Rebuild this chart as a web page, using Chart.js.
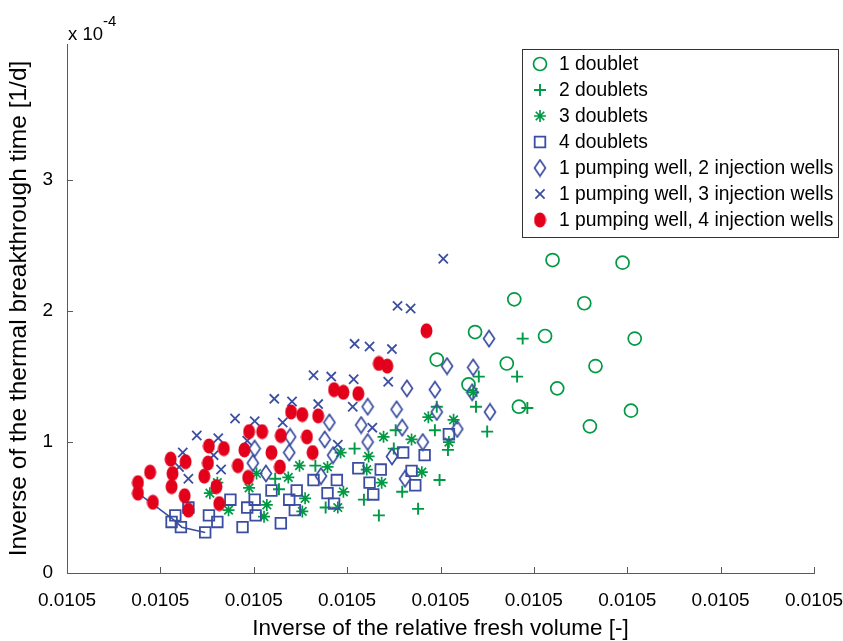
<!DOCTYPE html>
<html>
<head>
<meta charset="utf-8">
<script src="https://cdn.jsdelivr.net/npm/chart.js@4.4.1/dist/chart.umd.min.js"></script>
<style>
  html, body { margin: 0; padding: 0; background: #fff; }
</style>
</head>
<body>
<canvas id="chart" width="843" height="641"></canvas>
<script>
// x is given in tick steps (every tick is printed as 0.0105), y in units of 1e-4 [1/d]
const xTickLabels = ['0.0105', '0.0105', '0.0105', '0.0105', '0.0105', '0.0105', '0.0105', '0.0105', '0.0105'];
const yTickValues = [0, 1, 2, 3];
const yTickLabels = ['0', '1', '2', '3'];

const seriesNames = [
    '1 doublet',
    '2 doublets',
    '3 doublets',
    '4 doublets',
    '1 pumping well, 2 injection wells',
    '1 pumping well, 3 injection wells',
    '1 pumping well, 4 injection wells'
];

const oneDoublet = [
    [5.20, 2.39], [5.95, 2.37], [4.79, 2.09], [5.54, 2.06], [4.37, 1.84], [5.12, 1.81], [6.08, 1.79],
    [3.96, 1.63], [4.71, 1.60], [5.66, 1.58], [4.30, 1.44], [5.25, 1.41], [4.84, 1.27], [6.04, 1.24], [5.60, 1.12]
];
const twoDoublets = [
    [4.88, 1.79], [4.41, 1.50], [4.82, 1.50], [4.93, 1.26], [4.38, 1.27], [3.96, 1.27], [4.50, 1.08],
    [3.94, 1.09], [3.52, 1.09], [3.50, 0.95], [4.08, 0.94], [3.08, 0.95], [2.66, 0.82], [3.99, 0.71],
    [3.59, 0.62], [3.18, 0.56], [2.77, 0.50], [3.34, 0.44], [3.76, 0.49], [2.23, 0.72], [2.27, 0.64]
];
const threeDoublets = [
    [4.35, 1.38], [3.87, 1.19], [4.14, 1.17], [3.39, 1.04], [3.69, 1.02], [4.09, 1.00], [2.93, 0.92],
    [3.23, 0.89], [2.79, 0.81], [3.21, 0.79], [3.80, 0.77], [3.37, 0.69], [2.96, 0.62], [2.90, 0.50],
    [2.55, 0.57], [2.52, 0.47], [2.49, 0.82], [2.37, 0.73], [2.03, 0.76], [1.95, 0.65], [2.14, 0.52],
    [2.11, 0.43], [1.53, 0.61], [1.61, 0.69], [1.73, 0.48]
];
const fourDoublets = [
    [1.16, 0.44], [1.12, 0.39], [1.22, 0.35], [1.48, 0.31], [1.30, 0.50], [1.52, 0.44], [1.61, 0.39],
    [1.75, 0.56], [1.88, 0.35], [1.93, 0.50], [2.01, 0.56], [2.02, 0.44], [2.19, 0.63], [2.29, 0.38],
    [2.38, 0.56], [2.44, 0.48], [2.46, 0.63], [2.64, 0.71], [2.89, 0.71], [2.79, 0.61], [2.86, 0.53],
    [3.12, 0.80], [3.36, 0.79], [3.24, 0.69], [3.28, 0.60], [3.60, 0.92], [3.83, 0.90], [3.69, 0.78],
    [3.73, 0.67], [4.09, 1.06]
];
const pump2Inj = [
    [4.52, 1.79], [4.07, 1.58], [4.35, 1.57], [3.64, 1.41], [3.94, 1.40], [4.34, 1.38], [3.22, 1.27],
    [3.53, 1.25], [3.96, 1.23], [4.53, 1.23], [2.81, 1.15], [3.15, 1.13], [3.59, 1.11], [4.18, 1.10],
    [2.39, 1.04], [2.76, 1.02], [3.22, 1.00], [3.81, 1.00], [2.01, 0.95], [2.38, 0.92], [2.85, 0.90],
    [3.48, 0.89], [1.99, 0.84], [2.13, 0.76], [2.72, 0.74], [3.62, 0.72]
];
const pump3Inj = [
    [4.03, 2.40], [3.54, 2.04], [3.68, 2.02], [3.08, 1.75], [3.24, 1.73], [3.48, 1.71], [2.64, 1.51],
    [2.83, 1.50], [3.07, 1.48], [3.44, 1.46], [2.22, 1.33], [2.41, 1.31], [2.69, 1.29], [3.06, 1.27],
    [1.80, 1.18], [2.01, 1.16], [2.31, 1.15], [1.39, 1.05], [1.62, 1.03], [1.93, 1.01], [3.27, 1.11],
    [2.90, 0.98], [1.24, 0.92], [1.57, 0.90], [1.20, 0.81], [1.65, 0.79], [1.30, 0.72]
];
const pump4Inj = [
    [3.85, 1.85], [3.34, 1.60], [3.43, 1.58], [2.86, 1.40], [2.96, 1.38], [3.12, 1.37], [2.40, 1.23],
    [2.52, 1.21], [2.69, 1.20], [1.95, 1.08], [2.09, 1.08], [2.29, 1.05], [2.57, 1.04], [1.52, 0.97],
    [1.68, 0.95], [1.90, 0.94], [2.19, 0.92], [2.63, 0.92], [1.27, 0.85], [1.11, 0.87], [1.51, 0.84],
    [1.83, 0.82], [2.28, 0.81], [0.89, 0.77], [1.13, 0.76], [1.47, 0.74], [1.94, 0.73], [0.76, 0.69],
    [1.12, 0.66], [1.60, 0.66], [0.76, 0.61], [1.26, 0.59], [0.92, 0.54], [1.63, 0.53], [1.30, 0.48]
];
// short blue curve in the lower left corner
const fitLine = [[0.76, 0.61], [1.12, 0.42], [1.23, 0.35], [1.48, 0.31]];

const green = '#009a44';
const blue = '#3c4ea1';
const red = '#e3001b';
const axisColor = '#5a5a5a';
const font = '"Liberation Sans", Arial, sans-serif';

const pts = arr => arr.map(([x, y]) => ({ x, y }));

function markerCanvas(w, h, draw) {
    const c = document.createElement('canvas');
    c.width = w;
    c.height = h;
    draw(c.getContext('2d'), w, h);
    return c;
}
const tallDiamond = markerCanvas(14, 19, (g, w, h) => {
    g.strokeStyle = blue;
    g.lineWidth = 1.7;
    g.beginPath();
    g.moveTo(w / 2, 1.5);
    g.lineTo(w - 1.5, h / 2);
    g.lineTo(w / 2, h - 1.5);
    g.lineTo(1.5, h / 2);
    g.closePath();
    g.stroke();
});
const redDot = markerCanvas(13, 16, (g, w, h) => {
    g.fillStyle = red;
    g.beginPath();
    g.ellipse(w / 2, h / 2, w / 2 - 0.5, h / 2 - 0.5, 0, 0, Math.PI * 2);
    g.fill();
});

const datasets = [
    { label: seriesNames[0], data: pts(oneDoublet), pointStyle: 'circle', pointRadius: 6.5, borderWidth: 1.7, borderColor: green, backgroundColor: 'rgba(0,0,0,0)', order: 8 },
    { label: seriesNames[1], data: pts(twoDoublets), pointStyle: 'cross', pointRadius: 6, borderWidth: 1.9, borderColor: green, backgroundColor: green, order: 7 },
    { label: seriesNames[2], data: pts(threeDoublets), pointStyle: 'star', pointRadius: 6, borderWidth: 1.7, borderColor: green, backgroundColor: green, order: 6 },
    { label: seriesNames[3], data: pts(fourDoublets), pointStyle: 'rect', pointRadius: 7.5, borderWidth: 1.8, borderColor: blue, backgroundColor: 'rgba(0,0,0,0)', order: 5 },
    { label: seriesNames[4], data: pts(pump2Inj), pointStyle: tallDiamond, pointRadius: 8, borderWidth: 1.7, borderColor: blue, backgroundColor: 'rgba(0,0,0,0)', order: 4 },
    { label: seriesNames[5], data: pts(pump3Inj), pointStyle: 'crossRot', pointRadius: 6.5, borderWidth: 1.8, borderColor: blue, backgroundColor: blue, order: 3 },
    { label: seriesNames[6], data: pts(pump4Inj), pointStyle: redDot, pointRadius: 7, borderWidth: 0, borderColor: red, backgroundColor: red, order: 2 },
    { type: 'line', label: 'fit', data: pts(fitLine), borderColor: blue, borderWidth: 1.6, pointRadius: 0, fill: false, order: 4.5 }
];

// ticks pointing inwards + the "x 10^-4" multiplier
const axisDecor = {
    id: 'axisDecor',
    afterDatasetsDraw(chart) {
        const { ctx, chartArea: a, scales: { x, y } } = chart;
        ctx.save();
        ctx.strokeStyle = axisColor;
        ctx.lineWidth = 1;
        ctx.beginPath();
        x.ticks.forEach(t => {
            const px = Math.round(x.getPixelForValue(t.value)) + 0.5;
            ctx.moveTo(px, a.bottom);
            ctx.lineTo(px, a.bottom - 6);
        });
        y.ticks.forEach(t => {
            const py = Math.round(y.getPixelForValue(t.value)) + 0.5;
            ctx.moveTo(a.left, py);
            ctx.lineTo(a.left + 6, py);
        });
        ctx.stroke();
        ctx.fillStyle = '#000';
        ctx.textBaseline = 'alphabetic';
        ctx.font = '18.5px ' + font;
        ctx.fillText('x 10', a.left + 1, 40);
        const w = ctx.measureText('x 10').width;
        ctx.font = '15px ' + font;
        ctx.fillText('-4', a.left + 1 + w, 26);
        ctx.restore();
    }
};

const legendBox = {
    id: 'legendBox',
    afterDraw(chart) {
        const ctx = chart.ctx;
        ctx.save();
        ctx.fillStyle = '#fff';
        ctx.fillRect(522.5, 49.5, 316, 188);
        ctx.strokeStyle = '#333';
        ctx.lineWidth = 1;
        ctx.strokeRect(522.5, 49.5, 316, 188);
        seriesNames.forEach((name, i) => {
            const ds = chart.data.datasets[i];
            const y = 64 + i * 26;
            ctx.save();
            ctx.strokeStyle = ds.borderColor;
            ctx.fillStyle = ds.backgroundColor;
            ctx.lineWidth = ds.borderWidth;
            Chart.helpers.drawPoint(ctx, { pointStyle: ds.pointStyle, radius: ds.pointRadius, rotation: 0, borderWidth: ds.borderWidth }, 540, y);
            ctx.restore();
            ctx.fillStyle = '#000';
            ctx.font = '19.3px ' + font;
            ctx.textBaseline = 'middle';
            ctx.fillText(name, 559, y + 1);
        });
        ctx.restore();
    }
};

new Chart(document.getElementById('chart'), {
    type: 'scatter',
    data: { datasets },
    options: {
        responsive: false,
        animation: false,
        events: [],
        layout: { padding: { top: 44, right: 29, left: 0, bottom: 0 } },
        plugins: { legend: { display: false }, tooltip: { enabled: false } },
        scales: {
            x: {
                type: 'linear', min: 0, max: 8,
                afterBuildTicks: s => { s.ticks = xTickLabels.map((_, i) => ({ value: i })); },
                afterFit: s => { s.height = 68; s.paddingLeft = 0; s.paddingRight = 0; },
                grid: { display: false },
                border: { display: true, color: axisColor, width: 1 },
                ticks: { color: '#000', padding: 8, maxRotation: 0, font: { family: font, size: 19 }, callback: (v, i) => xTickLabels[i] },
                title: { display: true, text: 'Inverse of the relative fresh volume [-]', color: '#000', padding: { top: 0, bottom: -1 }, font: { family: font, size: 22.5 } }
            },
            y: {
                type: 'linear', min: 0, max: 4.04,
                afterBuildTicks: s => { s.ticks = yTickValues.map(v => ({ value: v })); },
                afterFit: s => { s.width = 67; },
                grid: { display: false },
                border: { display: true, color: axisColor, width: 1 },
                ticks: { color: '#000', padding: 6, font: { family: font, size: 19 }, callback: (v, i) => yTickLabels[i] },
                title: { display: true, text: 'Inverse of the thermal breakthrough time [1/d]', color: '#000', padding: { top: 5, bottom: 0 }, font: { family: font, size: 24.5 } }
            }
        }
    },
    plugins: [axisDecor, legendBox]
});
</script>
</body>
</html>
